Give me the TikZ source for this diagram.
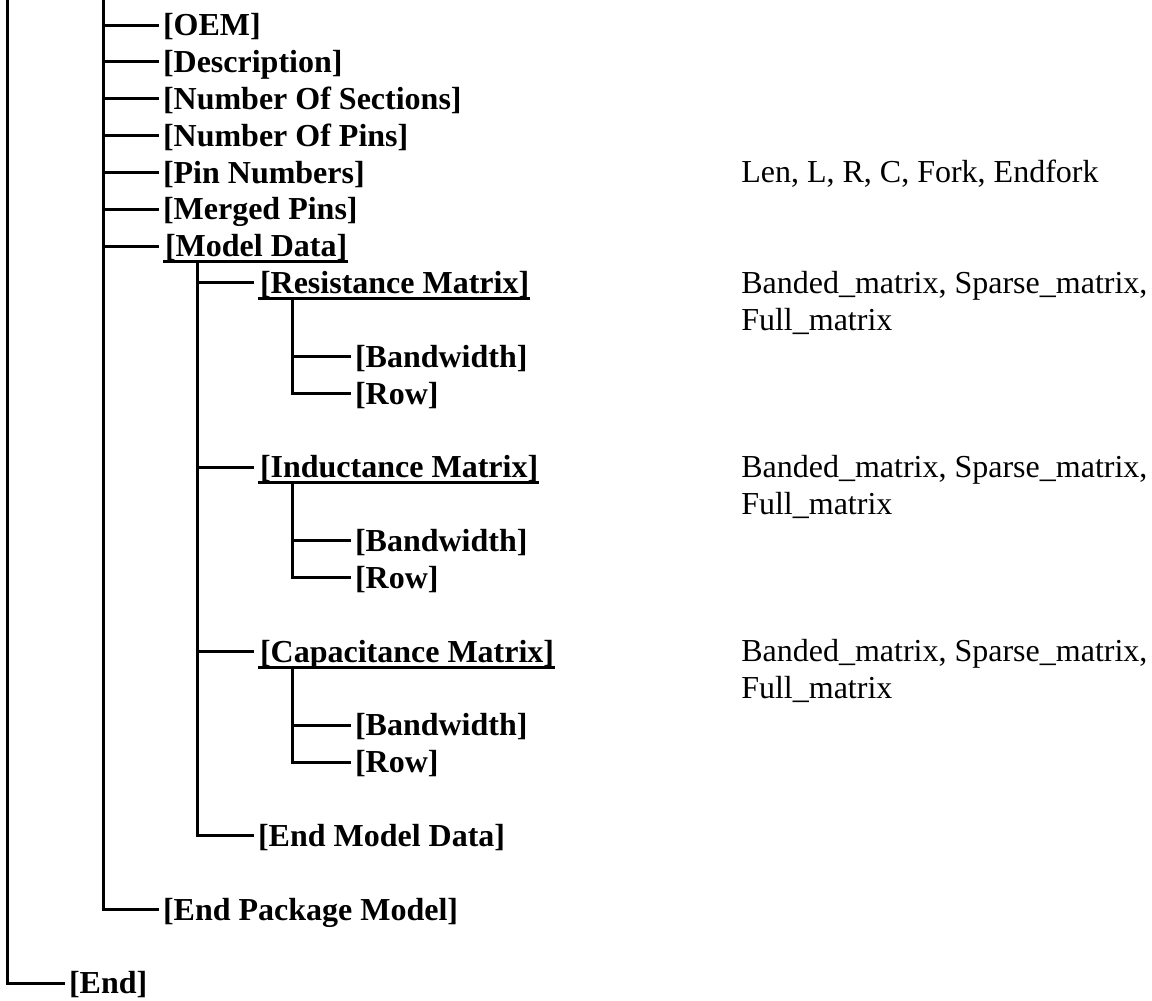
\documentclass[tikz,border=0pt]{standalone}
\usepackage{fontspec}
\setmainfont{Liberation Serif}
\usetikzlibrary{calc}
\tikzset{
  tree/.style={line width=2.25pt, line join=miter, line cap=rect},
  ulstyle/.style={line width=2.25pt},
  lbl/.style={anchor=west, inner sep=0pt, outer xsep=4.5pt, outer ysep=0pt,
    text height=15.9pt, text depth=0pt,
    font=\fontsize{24pt}{27.64pt}\selectfont\bfseries},
  note/.style={anchor=base west, inner sep=0pt, align=left,
    font=\fontsize{24pt}{27.64pt}\selectfont}
}
\newcommand{\ulnode}[1]{%
  \draw[ulstyle] ($(#1.base west)+(4,5)$) -- ($(#1.base east)+(-5,5)$);}
\begin{document}
\begin{tikzpicture}[x=0.75pt,y=-0.75pt]
\useasboundingbox (0,0) rectangle (1152,1000);

% level-2 items
\node[lbl] (oem)  at (157,25)     {[OEM]};
\node[lbl] (desc) at (157,61.85)  {[Description]};
\node[lbl] (nos)  at (157,98.7)   {[Number Of Sections]};
\node[lbl] (nop)  at (157,135.55) {[Number Of Pins]};
\node[lbl] (pinn) at (157,172.4)  {[Pin Numbers]};
\node[lbl] (merg) at (157,209.25) {[Merged Pins]};
\node[lbl] (md)   at (159,246.1)  {[Model Data]};
\node[lbl] (epm)  at (157,909.4)  {[End Package Model]};
\node[lbl] (endn) at (63,983.1)   {[End]};

% level-3 items
\node[lbl] (res)  at (254,282.95) {[Resistance Matrix]};
\node[lbl] (ind)  at (254,467.2)  {[Inductance Matrix]};
\node[lbl] (cap)  at (254,651.45) {[Capacitance Matrix]};
\node[lbl] (emd)  at (252,835.7)  {[End Model Data]};

% level-4 items
\node[lbl] (bwa)  at (349,356.65) {[Bandwidth]};
\node[lbl] (rowa) at (349,393.5)  {[Row]};
\node[lbl] (bwb)  at (349,540.9)  {[Bandwidth]};
\node[lbl] (rowb) at (349,577.75) {[Row]};
\node[lbl] (bwc)  at (349,725.15) {[Bandwidth]};
\node[lbl] (rowc) at (349,762)    {[Row]};

% notes (base anchor = baseline of the last line)
\node[note] (npin) at (741,182.9) {Len, L, R, C, Fork, Endfork};
\node[note] (nres) at (741,330.3)  {Banded\_matrix, Sparse\_matrix,\\Full\_matrix};
\node[note] (nind) at (741,514.55) {Banded\_matrix, Sparse\_matrix,\\Full\_matrix};
\node[note] (ncap) at (741,698.8)  {Banded\_matrix, Sparse\_matrix,\\Full\_matrix};

% underlines
\ulnode{md}
\ulnode{res}
\ulnode{ind}
\ulnode{cap}

% vertical origins
\coordinate (v1) at (7,-5);
\coordinate (v2) at (103,-5);
\coordinate (v3) at (197,264.5);
\coordinate (v4a) at (292,301.5);
\coordinate (v4b) at (292,485.7);
\coordinate (v4c) at (292,670);

% level 1
\draw[tree] (v1) |- (endn.west);
% level 2
\draw[tree] (v2) |- (epm.west);
\foreach \n in {oem,desc,nos,nop,pinn,merg}
  \draw[tree] (\n.west -| v2) -- (\n.west);
\draw[tree] (md.west -| v2) -- ([xshift=-1.5pt]md.west);
% level 3
\draw[tree] (v3) |- (emd.west);
\foreach \n in {res,ind,cap}
  \draw[tree] (\n.west -| v3) -- ([xshift=-1.5pt]\n.west);
% level 4
\draw[tree] (v4a) |- (rowa.west);
\draw[tree] (bwa.west -| v4a) -- (bwa.west);
\draw[tree] (v4b) |- (rowb.west);
\draw[tree] (bwb.west -| v4b) -- (bwb.west);
\draw[tree] (v4c) |- (rowc.west);
\draw[tree] (bwc.west -| v4c) -- (bwc.west);
\end{tikzpicture}
\end{document}
